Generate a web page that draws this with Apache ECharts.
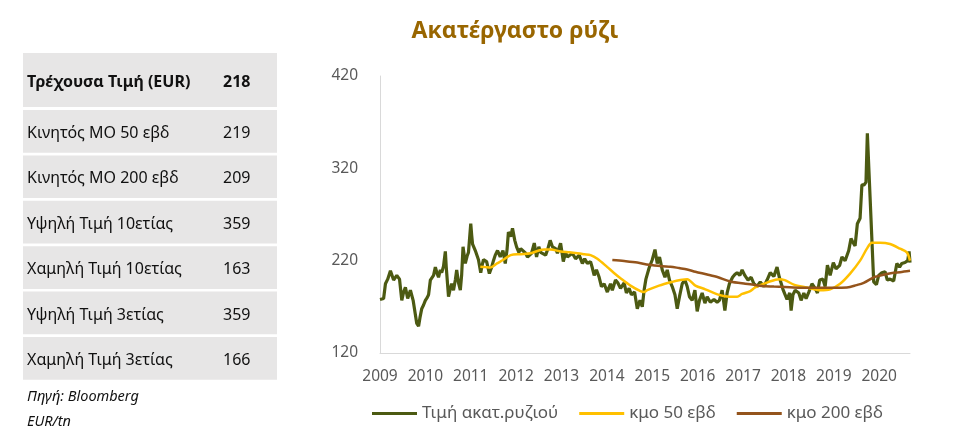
<!DOCTYPE html>
<html>
<head>
<meta charset="utf-8">
<script src="https://cdn.jsdelivr.net/npm/echarts@6/dist/echarts.min.js"></script>
<style>
html,body{margin:0;padding:0;background:#fff;}
#c{width:959px;height:433px;}
</style>
</head>
<body>
<div id="c"></div>
<script>
// ---- data ----
var chartTitle = 'Ακατέργαστο ρύζι';
var seriesNames = ['Τιμή ακατ.ρυζιού', 'κμο 50 εβδ', 'κμο 200 εβδ'];
var tableLabels = ['Τρέχουσα Τιμή (EUR)', 'Κινητός ΜΟ 50 εβδ', 'Κινητός ΜΟ 200 εβδ', 'Υψηλή Τιμή 10ετίας', 'Χαμηλή Τιμή 10ετίας', 'Υψηλή Τιμή 3ετίας', 'Χαμηλή Τιμή 3ετίας'];
var tableValues = ['218', '219', '209', '359', '163', '359', '166'];
var sourceNotes = ['Πηγή: Bloomberg', 'EUR/tn'];
var yTicks = [120, 220, 320, 420];
var xYears = [2009, 2020.68];

// [year, EUR/tn]
var price = [
[2009.00,178],[2009.04,177],[2009.08,179],[2009.12,195],[2009.17,200],[2009.23,209],[2009.30,199],[2009.37,204],[2009.43,200],[2009.48,177],
[2009.52,186],[2009.56,191],[2009.61,179],[2009.67,188],[2009.73,177],[2009.76,176],[2009.81,152],[2009.85,149],[2009.88,158],[2009.92,168],
[2009.96,172],[2010.00,177],[2010.04,180],[2010.07,183],[2010.11,199],[2010.15,198],[2010.18,204],[2010.22,213],[2010.26,206],[2010.29,202],
[2010.33,210],[2010.36,207],[2010.40,214],[2010.44,230],[2010.46,213],[2010.51,181],[2010.55,190],[2010.58,195],[2010.62,188],[2010.66,199],
[2010.69,210],[2010.73,196],[2010.77,188],[2010.80,205],[2010.83,235],[2010.88,217],[2010.92,225],[2010.95,229],[2011.00,260],[2011.02,248],
[2011.04,238],[2011.10,231],[2011.14,230],[2011.17,221],[2011.22,207],[2011.25,215],[2011.28,221],[2011.35,219],[2011.41,206],[2011.46,213],
[2011.50,220],[2011.54,226],[2011.59,231],[2011.65,224],[2011.71,231],[2011.76,217],[2011.80,232],[2011.83,251],[2011.88,246],[2011.92,255],
[2011.97,242],[2012.01,235],[2012.06,229],[2012.10,233],[2012.14,231],[2012.21,228],[2012.25,224],[2012.29,222],[2012.34,228],[2012.40,239],
[2012.45,224],[2012.50,235],[2012.54,229],[2012.58,231],[2012.65,226],[2012.70,233],[2012.75,242],[2012.80,235],[2012.87,233],[2012.91,228],
[2012.98,239],[2013.04,219],[2013.09,229],[2013.13,224],[2013.17,222],[2013.24,228],[2013.31,222],[2013.39,226],[2013.46,217],[2013.51,222],
[2013.57,217],[2013.64,219],[2013.68,212],[2013.72,204],[2013.77,210],[2013.83,202],[2013.88,192],[2013.94,195],[2014.01,186],[2014.04,190],
[2014.08,195],[2014.12,188],[2014.19,199],[2014.24,196],[2014.30,190],[2014.34,193],[2014.38,196],[2014.43,185],[2014.49,190],[2014.54,183],
[2014.61,186],[2014.67,168],[2014.73,177],[2014.78,170],[2014.82,188],[2014.86,200],[2014.93,212],[2015.00,221],[2015.06,232],[2015.11,217],
[2015.16,224],[2015.22,210],[2015.28,202],[2015.33,210],[2015.38,199],[2015.44,192],[2015.50,183],[2015.55,168],[2015.60,181],[2015.66,195],
[2015.72,199],[2015.77,192],[2015.82,181],[2015.88,177],[2015.94,188],[2015.99,165],[2016.04,177],[2016.10,185],[2016.16,174],[2016.21,181],
[2016.28,175],[2016.36,178],[2016.43,175],[2016.48,177],[2016.54,188],[2016.60,166],[2016.65,185],[2016.70,195],[2016.77,202],[2016.82,205],
[2016.87,207],[2016.93,204],[2016.98,210],[2017.04,204],[2017.11,199],[2017.18,202],[2017.24,195],[2017.31,192],[2017.38,197],[2017.46,192],
[2017.53,199],[2017.60,207],[2017.68,203],[2017.75,213],[2017.80,202],[2017.84,200],[2017.88,189],[2017.92,184],[2017.97,178],[2018.03,185],
[2018.06,166],[2018.10,183],[2018.15,188],[2018.23,185],[2018.28,177],[2018.34,185],[2018.39,179],[2018.45,186],[2018.52,195],[2018.59,190],
[2018.64,185],[2018.69,199],[2018.76,200],[2018.81,192],[2018.86,215],[2018.92,204],[2018.99,218],[2019.05,211],[2019.13,215],[2019.18,224],
[2019.25,220],[2019.33,231],[2019.38,244],[2019.42,240],[2019.47,236],[2019.52,260],[2019.58,266],[2019.62,302],[2019.67,302],[2019.71,305],
[2019.74,358],[2019.77,359],[2019.80,289],[2019.84,289],[2019.88,197],[2019.94,194],[2019.99,204],[2020.06,207],[2020.13,208],[2020.18,199],
[2020.24,200],[2020.32,198],[2020.39,217],[2020.45,213],[2020.50,217],[2020.57,218],[2020.63,220],[2020.66,230],[2020.68,218]
];

var ma50 = [
[2011.21,213.5],[2011.32,213],[2011.43,212.5],[2011.58,217],[2011.72,221],[2011.88,226],[2012.10,227],[2012.32,228],[2012.50,231],[2012.62,232],
[2012.76,232],[2012.98,230],[2013.17,229],[2013.35,228],[2013.50,227],[2013.64,226],[2013.79,222],[2014.01,213],[2014.15,207],[2014.30,201],
[2014.52,193],[2014.74,187],[2014.82,186],[2014.89,188],[2015.15,193],[2015.44,197],[2015.62,199],[2015.77,200],[2015.95,193],[2016.17,189],
[2016.47,183],[2016.70,181],[2016.87,181],[2016.98,184],[2017.16,187],[2017.27,191],[2017.57,197],[2017.79,200],[2017.92,199],[2018.12,194],
[2018.41,191],[2018.70,188],[2018.92,189],[2019.14,195],[2019.36,206],[2019.58,220],[2019.73,233],[2019.84,239.5],[2020.02,239.5],[2020.24,238],
[2020.46,233],[2020.61,229],[2020.68,220]
];

var ma200 = [
[2014.12,220.7],[2014.38,219.6],[2014.67,218],[2014.93,215.5],[2015.22,214],[2015.40,213.5],[2015.59,212],[2015.77,210.5],[2015.95,208],[2016.21,205],
[2016.45,202],[2016.72,197.5],[2017.05,195],[2017.16,194.5],[2017.42,192.6],[2017.68,192],[2017.92,191.5],[2018.26,190.7],[2018.70,190.7],[2019.00,190.7],
[2019.29,191],[2019.50,193.5],[2019.66,196],[2019.88,202],[2019.95,203],[2020.17,205.6],[2020.32,207],[2020.46,207.5],[2020.68,209]
];

(function () {
  var FONT = 'Noto Sans';
  var chart = echarts.init(document.getElementById('c'), null, {renderer: 'canvas'});

  var graphics = [];
  var rowX = 23, rowW = 254;
  for (var i = 0; i < tableLabels.length; i++) {
    var rowTop = i === 0 ? 53 : 110 + (i - 1) * 45.4;
    var rowH = i === 0 ? 54 : 42.7;
    var fw = i === 0 ? 'bold ' : '';
    var ty = rowTop + rowH / 2 - 6;
    graphics.push({type: 'rect', left: rowX, top: rowTop, shape: {width: rowW, height: rowH}, style: {fill: '#e7e6e6'}, silent: true});
    graphics.push({type: 'text', left: 27, top: ty, style: {text: tableLabels[i], font: fw + '16px "' + FONT + '"', fill: '#111111'}});
    graphics.push({type: 'text', left: 223, top: ty, style: {text: tableValues[i], font: fw + '16px "' + FONT + '"', fill: '#111111'}});
  }
  graphics.push({type: 'text', left: 27, top: 389, style: {text: sourceNotes[0], font: 'italic 14.5px "' + FONT + '"', fill: '#111111'}});
  graphics.push({type: 'text', left: 27, top: 414, style: {text: sourceNotes[1], font: 'italic 14.5px "' + FONT + '"', fill: '#111111'}});

  var option = {
    animation: false,
    backgroundColor: '#ffffff',
    textStyle: {fontFamily: FONT},
    title: {
      text: chartTitle, left: 510, top: 15, textAlign: 'center',
      textStyle: {fontFamily: FONT, fontWeight: 'bold', fontSize: 23, color: '#996600'}
    },
    grid: {left: 380, right: 49, top: 76, bottom: 80},
    legend: {
      left: 367, top: 400,
      itemWidth: 45, itemHeight: 3, itemGap: 21,
      icon: 'rect',
      textStyle: {fontFamily: FONT, fontSize: 17, color: '#595959'},
      data: seriesNames
    },
    xAxis: {
      type: 'value', min: xYears[0], max: xYears[1], interval: 1,
      axisLine: {show: true, lineStyle: {color: '#d9d9d9', width: 1}},
      axisTick: {show: false},
      splitLine: {show: false},
      axisLabel: {
        color: '#595959', fontSize: 15.5, fontFamily: FONT, margin: 16, showMaxLabel: false,
        formatter: function (v) { return Math.abs(v - Math.round(v)) < 1e-6 ? String(Math.round(v)) : ''; }
      }
    },
    yAxis: {
      type: 'value', min: yTicks[0], max: yTicks[yTicks.length - 1], interval: 100,
      axisLine: {show: true, lineStyle: {color: '#d9d9d9', width: 1}},
      axisTick: {show: false},
      splitLine: {show: false},
      axisLabel: {color: '#595959', fontSize: 15.5, fontFamily: FONT, margin: 22}
    },
    series: [
      {name: seriesNames[0], type: 'line', data: price, showSymbol: false, symbol: 'none',
        lineStyle: {color: '#4c5a12', width: 3.2}, itemStyle: {color: '#4c5a12'}, z: 2},
      {name: seriesNames[1], type: 'line', data: ma50, showSymbol: false, symbol: 'none', smooth: 0.3,
        lineStyle: {color: '#ffc000', width: 2.5}, itemStyle: {color: '#ffc000'}, z: 3},
      {name: seriesNames[2], type: 'line', data: ma200, showSymbol: false, symbol: 'none', smooth: 0.3,
        lineStyle: {color: '#94541c', width: 2.5}, itemStyle: {color: '#94541c'}, z: 4}
    ],
    graphic: graphics
  };
  chart.setOption(option);
})();
</script>
</body>
</html>
